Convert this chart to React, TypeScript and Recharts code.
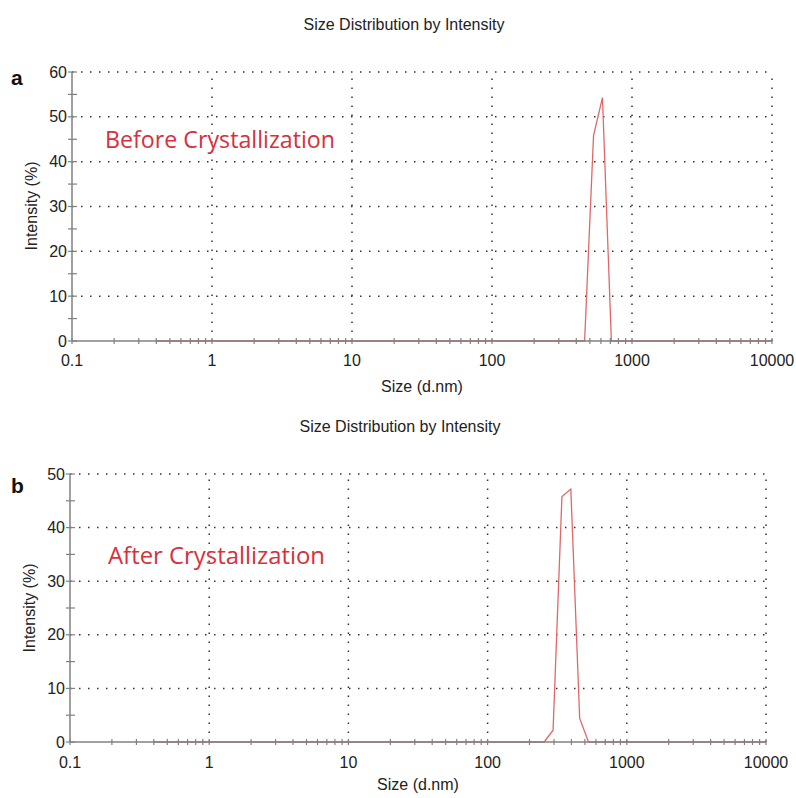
import React from 'react';
import { LineChart, Line, XAxis, YAxis, ReferenceLine } from 'recharts';

// size bins (d.nm) and intensity (%)
const SIZE_A = [0.4, 458.7, 531.2, 615.1, 712.4, 10000];
const INTENSITY_A = [0, 0, 45.8, 54.3, 0, 0];

const SIZE_B = [0.4, 255, 295.3, 342, 396.1, 458.7, 531.2, 10000];
const INTENSITY_B = [0, 0, 2.2, 45.8, 47.2, 4.4, 0, 0];

const DECADES = [0.1, 1, 10, 100, 1000, 10000];
const MINOR_STEPS = [2, 3, 4, 5, 6, 7, 8, 9];
const X_TICKS = [
  ...DECADES,
  ...DECADES.slice(0, -1).flatMap((d) => MINOR_STEPS.map((m) => m * d)),
];

const Y_TICKS_A = [0, 5, 10, 15, 20, 25, 30, 35, 40, 45, 50, 55, 60];
const Y_TICKS_B = [0, 5, 10, 15, 20, 25, 30, 35, 40, 45, 50];
const Y_GRID_A = [10, 20, 30, 40, 50, 60];
const Y_GRID_B = [10, 20, 30, 40, 50];
const X_GRID = [1, 10, 100, 1000, 10000];

const TITLE = 'Size Distribution by Intensity';
const X_LABEL = 'Size (d.nm)';
const Y_LABEL = 'Intensity (%)';

const FONT = '"Liberation Sans", Arial, sans-serif';
const AXIS = '#808080';
const LINE = '#e06868';
const RED_TEXT = '#d8303c';
const DOTS = '#333';

const toRows = (sizes: number[], vals: number[]) =>
  sizes.map((s, i) => ({ size: s, intensity: vals[i] }));

const makeXTick = (labelDy: number) => (props: any) => {
  const { x, y, payload } = props;
  const major = DECADES.includes(payload.value);
  return (
    <g>
      <line x1={x} x2={x} y1={y - 3} y2={y + 3} stroke={AXIS} strokeWidth={1.2} />
      {major && (
        <text x={x} y={y + labelDy} textAnchor="middle" fontSize={16} fill="#222" fontFamily={FONT}>
          {payload.value}
        </text>
      )}
    </g>
  );
};

const YTick = (props: any) => {
  const { x, y, payload } = props;
  const major = payload.value % 10 === 0;
  return (
    <g>
      <line x1={x - 4} x2={x + 5} y1={y} y2={y} stroke={AXIS} strokeWidth={1.2} />
      {major && (
        <text x={x - 5} y={y + 5.5} textAnchor="end" fontSize={16} fill="#222" fontFamily={FONT}>
          {payload.value}
        </text>
      )}
    </g>
  );
};

interface PanelProps {
  rows: { size: number; intensity: number }[];
  top: number;
  height: number;
  yAxisWidth: number;
  xAxisHeight: number;
  right: number;
  yMax: number;
  yTicks: number[];
  yGrid: number[];
  labelDy: number;
}

const Panel = ({ rows, top, height, yAxisWidth, xAxisHeight, right, yMax, yTicks, yGrid, labelDy }: PanelProps) => (
  <div style={{ position: 'absolute', left: 0, top, width: 788, height }}>
    <LineChart width={788} height={height} data={rows} margin={{ top: 64, right, bottom: 0, left: 0 }}>
      {yGrid.map((v) => (
        <ReferenceLine key={`y${v}`} y={v} stroke={DOTS} strokeWidth={1.5} strokeDasharray="1.5 7.5" />
      ))}
      {X_GRID.map((v) => (
        <ReferenceLine key={`x${v}`} x={v} stroke={DOTS} strokeWidth={1.5} strokeDasharray="1.5 7.5" />
      ))}
      <XAxis
        dataKey="size"
        type="number"
        scale="log"
        domain={[0.1, 10000]}
        allowDataOverflow
        ticks={X_TICKS}
        interval={0}
        height={xAxisHeight}
        tickSize={0}
        tickMargin={0}
        tickLine={false}
        axisLine={{ stroke: AXIS, strokeWidth: 1.5 }}
        tick={makeXTick(labelDy)}
      />
      <YAxis
        type="number"
        domain={[0, yMax]}
        ticks={yTicks}
        interval={0}
        width={yAxisWidth}
        tickSize={0}
        tickMargin={0}
        tickLine={false}
        axisLine={{ stroke: AXIS, strokeWidth: 1.5 }}
        tick={YTick}
      />
      <Line
        type="linear"
        dataKey="intensity"
        stroke={LINE}
        strokeWidth={1.3}
        dot={false}
        isAnimationActive={false}
      />
    </LineChart>
  </div>
);

export default function App() {
  return (
    <div style={{ position: 'absolute', left: 8, top: 8, width: 788, height: 790 }}>
      <Panel
        rows={toRows(SIZE_A, INTENSITY_A)}
        top={0}
        height={390}
        yAxisWidth={64}
        xAxisHeight={57}
        right={24}
        yMax={60}
        yTicks={Y_TICKS_A}
        yGrid={Y_GRID_A}
        labelDy={25}
      />
      <Panel
        rows={toRows(SIZE_B, INTENSITY_B)}
        top={402}
        height={385}
        yAxisWidth={62}
        xAxisHeight={53}
        right={30}
        yMax={50}
        yTicks={Y_TICKS_B}
        yGrid={Y_GRID_B}
        labelDy={26}
      />
      <svg
        width={788}
        height={790}
        style={{ position: 'absolute', left: 0, top: 0, pointerEvents: 'none' }}
      >
        <g fontFamily={FONT} fill="#222">
          <text x={396} y={22} textAnchor="middle" fontSize={16}>{TITLE}</text>
          <text x={392} y={424} textAnchor="middle" fontSize={16}>{TITLE}</text>
          <text x={3} y={77} fontSize={21} fontWeight="bold" fill="#111">a</text>
          <text x={3} y={485} fontSize={21} fontWeight="bold" fill="#111">b</text>
          <text x={414} y={384} textAnchor="middle" fontSize={16}>{X_LABEL}</text>
          <text x={410} y={782} textAnchor="middle" fontSize={16}>{X_LABEL}</text>
          <text transform="translate(29,198) rotate(-90)" textAnchor="middle" fontSize={16}>{Y_LABEL}</text>
          <text transform="translate(27,600) rotate(-90)" textAnchor="middle" fontSize={16}>{Y_LABEL}</text>
        </g>
        <g fontFamily='"Open Sans", sans-serif' fill={RED_TEXT} fontSize={24.5}>
          <text x={97} y={140} textLength={230} lengthAdjust="spacingAndGlyphs">Before Crystallization</text>
          <text x={100} y={556} textLength={217} lengthAdjust="spacingAndGlyphs">After Crystallization</text>
        </g>
      </svg>
    </div>
  );
}
